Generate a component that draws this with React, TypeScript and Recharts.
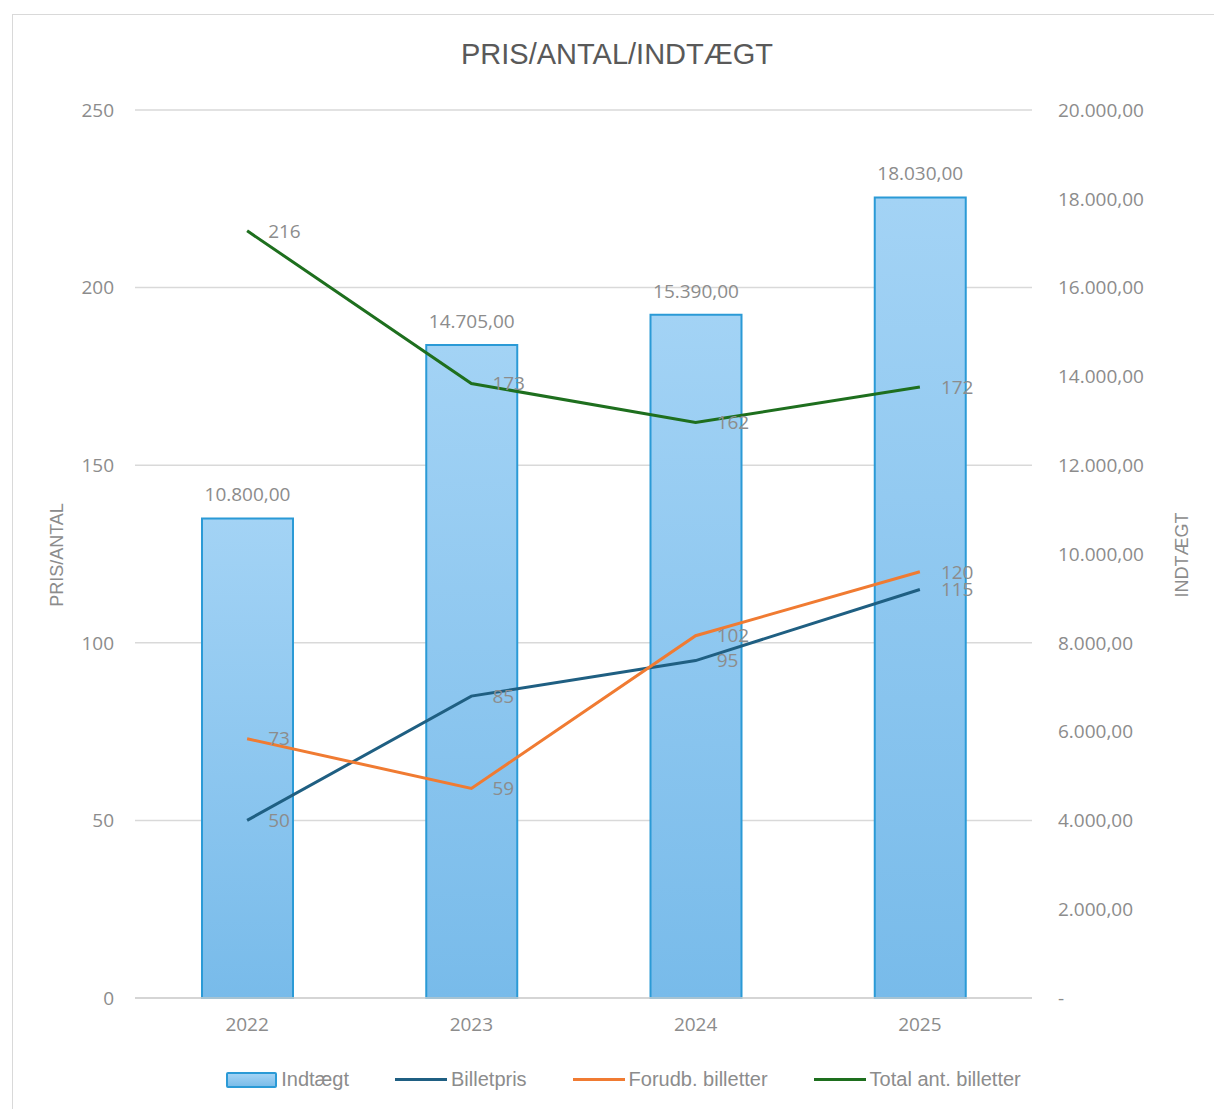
import { ComposedChart, Bar, Line, XAxis, YAxis, CartesianGrid, Legend, LabelList } from "recharts"

const years = ["2022", "2023", "2024", "2025"]
const indtaegt = [10800, 14705, 15390, 18030]
const billetpris = [50, 85, 95, 115]
const forudb = [73, 59, 102, 120]
const total = [216, 173, 162, 172]
const leftTicks = [0, 50, 100, 150, 200, 250]
const rightTicks = [0, 2000, 4000, 6000, 8000, 10000, 12000, 14000, 16000, 18000, 20000]
const legendOrder = ["Indtægt", "Billetpris", "Forudb. billetter", "Total ant. billetter"]

const data = years.map((year, i) => ({
  year,
  indtaegt: indtaegt[i],
  billetpris: billetpris[i],
  forudb: forudb[i],
  total: total[i],
}))

const GRAY = "#8c8c8c"
const FONT = "'Open Sans', sans-serif"
const NARROW = "'Liberation Sans Narrow', 'Arial Narrow', sans-serif"

// danish number format: 10.800,00 and "-" for zero
const dk = (v: any) => {
  const n = Number(v)
  if (n === 0) return "-"
  const [i, d] = n.toFixed(2).split(".")
  return i.replace(/\B(?=(\d{3})+(?!\d))/g, ".") + "," + d
}

function LegendContent(props: any) {
  const items = [...(props.payload || [])].sort(
    (a: any, b: any) => legendOrder.indexOf(a.value) - legendOrder.indexOf(b.value)
  )
  return (
    <div style={{ display: "flex", justifyContent: "center", alignItems: "center", paddingLeft: 33, fontFamily: NARROW, fontSize: 20, color: GRAY }}>
      {items.map((it: any, i: number) => (
        <div key={it.value} style={{ display: "flex", alignItems: "center", marginRight: i < items.length - 1 ? 46 : 0 }}>
          {it.type === "rect" ? (
            <div style={{ width: 47, height: 12, background: "linear-gradient(#a3d3f5, #7cbde9)", border: "2px solid #2b9ad6", borderRadius: 2 }} />
          ) : (
            <div style={{ width: 52, height: 3, background: it.color }} />
          )}
          <span style={{ marginLeft: 4 }}>{it.value}</span>
        </div>
      ))}
    </div>
  )
}

export default function App() {
  return (
    <div style={{ position: "absolute", left: 0, top: 0, width: 1214, height: 1109, background: "#fff" }}>
      <div style={{ position: "absolute", left: 12, top: 14, width: 1210, height: 1094, border: "1px solid #d9d9d9" }} />
      <div style={{ position: "absolute", left: 0, top: 38, width: 1234, textAlign: "center", fontFamily: NARROW, fontSize: 29, color: "#595959" }}>
        PRIS/ANTAL/INDTÆGT
      </div>
      <div style={{ position: "absolute", left: 0, top: 0 }}>
        <ComposedChart width={1214} height={1109} data={data} margin={{ top: 110, right: 22, left: 35, bottom: 61 }}>
          <defs>
            <linearGradient id="barFill" x1="0" y1="0" x2="0" y2="1">
              <stop offset="0%" stopColor="#a3d3f5" />
              <stop offset="100%" stopColor="#78bbea" />
            </linearGradient>
          </defs>
          <CartesianGrid vertical={false} stroke="#d9d9d9" strokeWidth={1.5} yAxisId="left" />
          <XAxis
            dataKey="year"
            axisLine={{ stroke: "#d0d0d0", strokeWidth: 1.5 }}
            tickLine={false}
            tickMargin={14}
            height={50}
            tick={{ fill: GRAY, fontSize: 19, fontFamily: FONT }}
          />
          <YAxis
            yAxisId="left"
            orientation="left"
            domain={[0, 250]}
            ticks={leftTicks}
            width={100}
            axisLine={false}
            tickLine={false}
            tickMargin={15}
            tick={{ fill: GRAY, fontSize: 19, fontFamily: FONT }}
            label={{
              content: (p: any) => {
                const vb = p.viewBox
                const cx = vb.x + 22
                const cy = 555
                return (
                  <text x={cx} y={cy} transform={`rotate(-90 ${cx} ${cy})`} textAnchor="middle" dominantBaseline="central" fill={GRAY} fontSize={18} fontFamily={NARROW}>
                    PRIS/ANTAL
                  </text>
                )
              },
            }}
          />
          <YAxis
            yAxisId="right"
            orientation="right"
            domain={[0, 20000]}
            ticks={rightTicks}
            width={160}
            axisLine={false}
            tickLine={false}
            tickMargin={20}
            tickFormatter={dk}
            tick={{ fill: GRAY, fontSize: 19, fontFamily: FONT }}
            label={{
              content: (p: any) => {
                const vb = p.viewBox
                const cx = vb.x + 150
                const cy = 555
                return (
                  <text x={cx} y={cy} transform={`rotate(-90 ${cx} ${cy})`} textAnchor="middle" dominantBaseline="central" fill={GRAY} fontSize={18} fontFamily={NARROW}>
                    INDTÆGT
                  </text>
                )
              },
            }}
          />
          <Legend
            verticalAlign="middle"
            layout="horizontal"
            wrapperStyle={{ top: 1068, left: 0, width: 1214 }}
            content={<LegendContent />}
          />
          <Bar yAxisId="right" dataKey="indtaegt" name="Indtægt" legendType="rect" fill="url(#barFill)" stroke="#2b9ad6" strokeWidth={2} barSize={91} isAnimationActive={false}>
            <LabelList dataKey="indtaegt" position="top" offset={17} formatter={dk} fill={GRAY} fontSize={19} fontFamily={FONT} />
          </Bar>
          <Line yAxisId="left" dataKey="billetpris" name="Billetpris" stroke="#1f5f82" strokeWidth={3} dot={false} isAnimationActive={false}>
            <LabelList dataKey="billetpris" position="right" offset={21} fill={GRAY} fontSize={19} fontFamily={FONT} />
          </Line>
          <Line yAxisId="left" dataKey="forudb" name="Forudb. billetter" stroke="#f07b32" strokeWidth={3} dot={false} isAnimationActive={false}>
            <LabelList dataKey="forudb" position="right" offset={21} fill={GRAY} fontSize={19} fontFamily={FONT} />
          </Line>
          <Line yAxisId="left" dataKey="total" name="Total ant. billetter" stroke="#1e6f1e" strokeWidth={3} dot={false} isAnimationActive={false}>
            <LabelList dataKey="total" position="right" offset={21} fill={GRAY} fontSize={19} fontFamily={FONT} />
          </Line>
        </ComposedChart>
      </div>
    </div>
  )
}
